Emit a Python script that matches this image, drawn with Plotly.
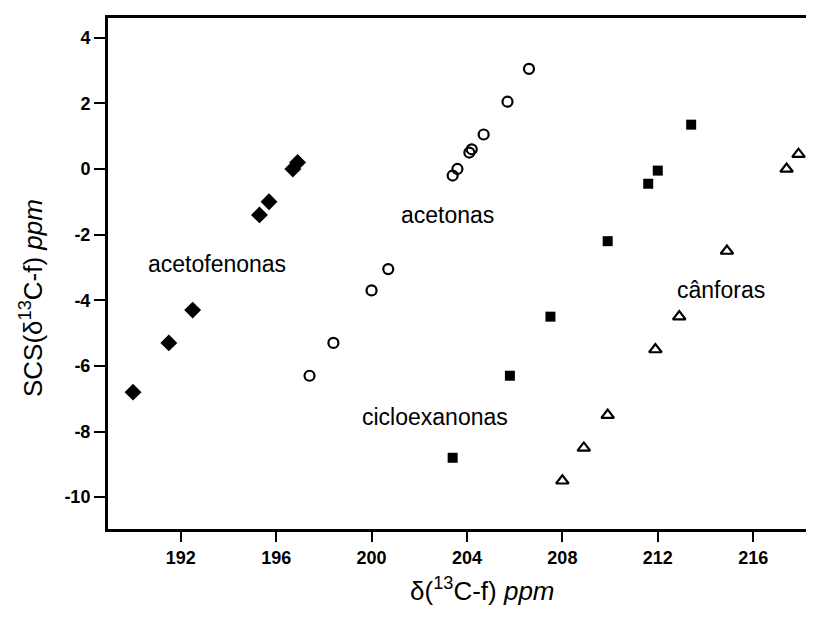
import plotly.graph_objects as go

# acetofenonas (filled diamonds)
aceto_x = [190.0, 191.5, 192.5, 195.3, 195.7, 196.7, 196.9]
aceto_y = [-6.8, -5.3, -4.3, -1.4, -1.0, 0.0, 0.2]

# acetonas (open circles)
acet_x = [197.4, 198.4, 200.0, 200.7, 203.4, 203.6, 204.1, 204.2, 204.7, 205.7, 206.6]
acet_y = [-6.3, -5.3, -3.7, -3.05, -0.2, 0.0, 0.5, 0.6, 1.05, 2.05, 3.05]

# cicloexanonas (filled squares)
ciclo_x = [203.4, 205.8, 207.5, 209.9, 211.6, 212.0, 213.4]
ciclo_y = [-8.8, -6.3, -4.5, -2.2, -0.45, -0.05, 1.35]

# cânforas (open triangles)
canf_x = [208.0, 208.9, 209.9, 211.9, 212.9, 214.9, 217.4, 217.9]
canf_y = [-9.5, -8.5, -7.5, -5.5, -4.5, -2.5, 0.0, 0.45]

# group labels
label_text = ["acetofenonas", "acetonas", "cicloexanonas", "cânforas"]
label_x = [193.5, 203.2, 202.65, 214.65]
label_y = [-2.9, -1.4, -7.55, -3.7]

x_tickvals = [192, 196, 200, 204, 208, 212, 216]
x_ticktext = ["192", "196", "200", "204", "208", "212", "216"]
y_tickvals = [4, 2, 0, -2, -4, -6, -8, -10]
y_ticktext = ["4", "2", "0", "-2", "-4", "-6", "-8", "-10"]

FONT = "Liberation Sans, Arial"

fig = go.Figure()
fig.add_trace(go.Scatter(x=aceto_x, y=aceto_y, mode="markers",
                         marker=dict(symbol="diamond", size=13, color="black",
                                     line=dict(width=0))))
fig.add_trace(go.Scatter(x=acet_x, y=acet_y, mode="markers",
                         marker=dict(symbol="circle-open", size=10, color="black",
                                     line=dict(width=2.2, color="black"))))
fig.add_trace(go.Scatter(x=ciclo_x, y=ciclo_y, mode="markers",
                         marker=dict(symbol="square", size=10, color="black",
                                     line=dict(width=0))))
fig.add_trace(go.Scatter(x=canf_x, y=canf_y, mode="markers",
                         marker=dict(symbol="triangle-up-open", size=11, color="black",
                                     line=dict(width=2.2, color="black"))))

for t, x, y in zip(label_text, label_x, label_y):
    fig.add_annotation(x=x, y=y, text=t, showarrow=False,
                       xanchor="center", yanchor="middle",
                       font=dict(family=FONT, size=23, color="black"))

fig.add_annotation(xref="paper", yref="paper", x=0.531, y=-0.119,
                   xanchor="center", yanchor="middle",
                   text="δ(<sup>13</sup>C-f) <i>ppm</i>", showarrow=False,
                   font=dict(family=FONT, size=26, color="black"))
fig.add_annotation(xref="paper", yref="paper", x=-0.109, y=0.452, textangle=-90,
                   xanchor="center", yanchor="middle",
                   text="SCS(δ<sup>13</sup>C-f) <i>ppm</i>", showarrow=False,
                   font=dict(family=FONT, size=26, color="black"))

# page body has an 8px margin, so the figure is sized to fit the window
fig.update_layout(
    width=806, height=615,
    margin=dict(l=100, r=0, t=10, b=94, pad=0, autoexpand=False),
    paper_bgcolor="white", plot_bgcolor="white",
    showlegend=False,
    xaxis=dict(range=[188.95, 218.55], tickvals=x_tickvals, ticktext=x_ticktext,
               automargin=False,
               ticks="outside", ticklen=10, tickwidth=2, tickcolor="black",
               showline=True, linewidth=3, linecolor="black", mirror=True,
               showgrid=False, zeroline=False,
               tickfont=dict(family=FONT, size=18, color="black", weight="bold")),
    yaxis=dict(range=[-10.97, 4.6], tickvals=y_tickvals, ticktext=y_ticktext,
               automargin=False,
               ticks="outside", ticklen=11, tickwidth=2, tickcolor="black",
               showline=True, linewidth=3, linecolor="black", mirror=False,
               showgrid=False, zeroline=False,
               tickfont=dict(family=FONT, size=18, color="black", weight="bold")),
)

fig.write_html("out.html")
